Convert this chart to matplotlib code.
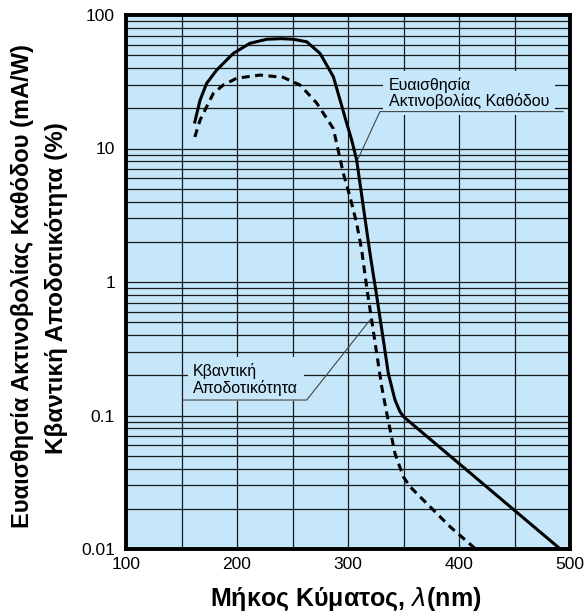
import matplotlib.pyplot as plt
from matplotlib.ticker import FixedLocator, FixedFormatter, LogLocator, NullFormatter

plt.rcParams['font.family'] = ['Liberation Sans', 'DejaVu Sans']

# cathode radiant sensitivity (mA/W), solid line
wl_sens = [162, 166.7, 172.7, 181.7, 196.7, 211.7, 226.8, 240, 250.7, 262.8, 274.8,
           286.8, 298.8, 303.3, 307.8, 313.8, 319.8, 325.9, 331.8, 336.3, 342.3,
           346.8, 350, 490]
sens = [15.8, 23, 30.8, 38.7, 51.6, 61.4, 65.8, 66.5, 65.8, 63, 51.6,
        34.5, 15.5, 11.6, 8.2, 3.66, 1.64, 0.78, 0.37, 0.207, 0.131,
        0.107, 0.098, 0.0102]

# quantum efficiency (%), dashed line
wl_qe = [162, 166.7, 172.7, 178.7, 187.7, 199.7, 220.7, 241.7, 256.8, 271.8, 286.8,
         295.8, 301.8, 307.8, 312.3, 316.8, 321.3, 325.9, 330.4, 334.9, 342.3,
         349.8, 355.9, 367.8, 391.9, 414.4]
qe = [12.2, 16.3, 20.6, 25.9, 29.9, 33.6, 35.5, 34.1, 29.9, 21.9, 14.1,
      6.5, 4.35, 2.75, 1.74, 0.92, 0.52, 0.29, 0.164, 0.104, 0.052,
      0.0348, 0.0293, 0.0233, 0.0147, 0.0101]

x_ticks = [100, 200, 300, 400, 500]
y_ticks = [0.01, 0.1, 1, 10, 100]
y_labels = ['0.01', '0.1', '1', '10', '100']

bg = '#c6e7fa'

fig = plt.figure(figsize=(5.84, 6.12), dpi=100)
ax = fig.add_axes([126 / 584, 1 - 549 / 612, 444 / 584, 534 / 612])
ax.set_facecolor(bg)

ax.plot(wl_sens, sens, color='black', lw=2.2, zorder=3, solid_joinstyle='round')
ax.plot(wl_qe, qe, color='black', lw=2.2, dashes=(2.6, 1.8), zorder=3)

ax.set_yscale('log')
ax.set_xlim(100, 500)
ax.set_ylim(0.01, 100)

ax.xaxis.set_major_locator(FixedLocator(x_ticks))
ax.xaxis.set_minor_locator(FixedLocator([150, 250, 350, 450]))
ax.yaxis.set_major_locator(FixedLocator(y_ticks))
ax.yaxis.set_major_formatter(FixedFormatter(y_labels))
ax.yaxis.set_minor_locator(LogLocator(base=10, subs=range(2, 10)))
ax.yaxis.set_minor_formatter(NullFormatter())

ax.set_axisbelow(True)
ax.grid(True, which='both', color='#1a1a1a', lw=0.9)
ax.tick_params(which='both', length=0)
ax.tick_params(axis='y', pad=8, labelsize=12.5)
ax.tick_params(axis='x', pad=6, labelsize=12.5)

for sp in ax.spines.values():
    sp.set_linewidth(2.8)

# annotations with underline + leader
ax.text(337, 26, 'Ευαισθησία\nΑκτινοβολίας Καθόδου', fontsize=11.5, ha='left', va='center',
        linespacing=1.05, zorder=4,
        bbox=dict(facecolor=bg, edgecolor='none', boxstyle='square,pad=0.35'))
ax.plot([493.7, 328.8, 309.3], [18.9, 18.9, 8.45], color='#444444', lw=0.8, zorder=5)

ax.text(160.5, 0.187, 'Κβαντική\nΑποδοτικότητα', fontsize=11.5, ha='left', va='center',
        linespacing=1.05, zorder=4,
        bbox=dict(facecolor=bg, edgecolor='none', boxstyle='square,pad=0.35'))
ax.plot([151.4, 262.8, 319.8], [0.1306, 0.1306, 0.519], color='#444444', lw=0.8, zorder=5)

fig.text(23 / 584, 1 - 286 / 612, 'Ευαισθησία Ακτινοβολίας Καθόδου (mA/W)', rotation=90,
         ha='center', va='center', fontsize=17, fontweight='bold')
fig.text(57 / 584, 1 - 288 / 612, 'Κβαντική Αποδοτικότητα (%)', rotation=90,
         ha='center', va='center', fontsize=17.5, fontweight='bold')
fig.text(346 / 584, 1 - 599 / 612, 'Μήκος Κύματος, $\\lambda$(nm)', ha='center', va='center',
         fontsize=18, fontweight='bold')

fig.savefig('out.png', dpi=100)
